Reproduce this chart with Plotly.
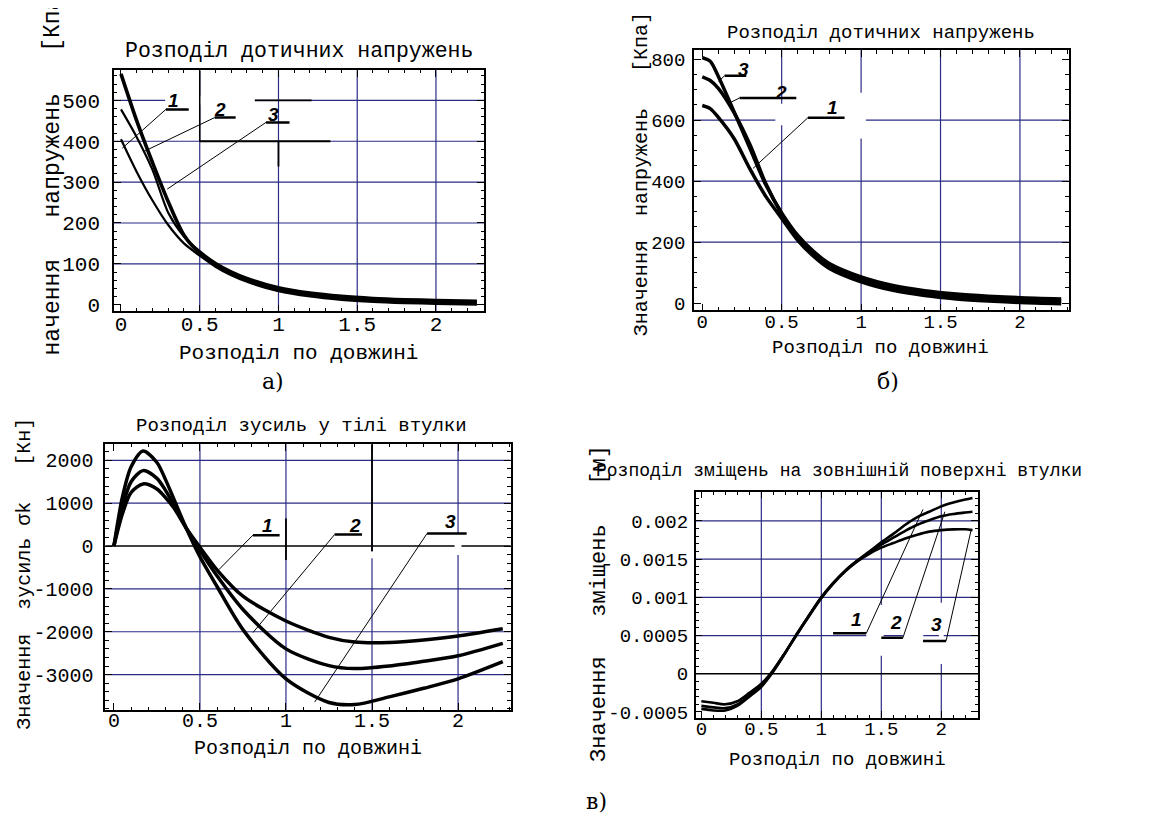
import plotly.graph_objects as go

W, H = 1176, 814

# ---------------- data ----------------
# а) tangential stresses, kPa
xa = [0.0, 0.1, 0.2, 0.3, 0.4, 0.5, 0.6, 0.7, 0.8, 1.0, 1.2, 1.4, 1.6, 1.8, 2.0, 2.26]
a1 = [405, 325, 255, 195, 150, 120, 93, 72, 56, 33, 20, 12, 7, 4, 2, 0]
a2 = [478, 410, 330, 225, 167, 131, 103, 82, 66, 43, 30, 22, 17, 14, 12, 10]
a3 = [565, 450, 348, 252, 170, 126, 98, 77, 61, 38, 25, 17, 12, 9, 7, 5]

# б) tangential stresses, kPa
xb = [0.0, 0.05, 0.1, 0.2, 0.3, 0.4, 0.5, 0.6, 0.7, 0.8, 1.0, 1.2, 1.4, 1.6, 1.8, 2.0, 2.26]
b1 = [648, 638, 610, 540, 440, 350, 278, 207, 154, 114, 70, 42, 25, 14, 7, 2, -2]
b2 = [742, 730, 705, 625, 520, 392, 292, 215, 162, 122, 78, 50, 33, 22, 15, 10, 6]
b3 = [805, 793, 745, 628, 508, 388, 296, 223, 170, 130, 86, 58, 41, 30, 23, 18, 14]

# в) forces in the sleeve body, kN
xc = [0.0, 0.05, 0.1, 0.17, 0.25, 0.3, 0.35, 0.42, 0.5, 0.6, 0.75, 1.0, 1.25, 1.4, 1.6, 1.8, 2.0, 2.26]
c1 = [0, 760, 1250, 1450, 1330, 1130, 880, 420, -30, -560, -1170, -1750, -2130, -2240, -2250, -2190, -2100, -1930]
c2 = [0, 920, 1500, 1760, 1580, 1300, 950, 420, -100, -700, -1480, -2400, -2790, -2860, -2800, -2690, -2560, -2270]
c3 = [0, 1150, 1850, 2220, 1950, 1550, 1080, 420, -250, -950, -1950, -3100, -3650, -3700, -3520, -3320, -3100, -2700]

# в) displacements of the outer sleeve surface, m
xd = [0.0, 0.1, 0.2, 0.3, 0.4, 0.5, 0.6, 0.7, 0.8, 0.9, 1.0, 1.1, 1.2, 1.3, 1.4, 1.5,
      1.6, 1.7, 1.8, 1.9, 2.0, 2.1, 2.2, 2.26]
d1 = [-0.00046, -0.00048, -0.00048, -0.00042, -0.00030, -0.00017, 0.00003, 0.00027, 0.00053,
      0.00077, 0.00100, 0.00119, 0.00135, 0.00148, 0.00160, 0.00172, 0.00183, 0.00195,
      0.00205, 0.00212, 0.00219, 0.00224, 0.00228, 0.00230]
d2 = [-0.00042, -0.00044, -0.00045, -0.00040, -0.00028, -0.00015, 0.00004, 0.00028, 0.00053,
      0.00077, 0.00100, 0.00119, 0.00135, 0.00148, 0.00159, 0.00169, 0.00178, 0.00187,
      0.00195, 0.00201, 0.00206, 0.00209, 0.00211, 0.00212]
d3 = [-0.00036, -0.00038, -0.00040, -0.00036, -0.00025, -0.00013, 0.00005, 0.00028, 0.00052,
      0.00076, 0.00099, 0.00118, 0.00134, 0.00147, 0.00157, 0.00165, 0.00171, 0.00177,
      0.00182, 0.00186, 0.00188, 0.00189, 0.00189, 0.00188]

x_ticks = [0, 0.5, 1, 1.5, 2]
x_tick_text = ["0", "0.5", "1", "1.5", "2"]
ya_ticks = [0, 100, 200, 300, 400, 500]
yb_ticks = [0, 200, 400, 600, 800]
yc_ticks = [-3000, -2000, -1000, 0, 1000, 2000]
yc_tick_text = ["-3000", "-2000", "-1000", "0", "1000", "2000"]
yd_ticks = [-0.0005, 0, 0.0005, 0.001, 0.0015, 0.002]
yd_tick_text = ["-0.0005", "0", "0.0005", "0.001", "0.0015", "0.002"]

x_grid = [0.5, 1, 1.5, 2]
ya_grid = [100, 200, 300, 400, 500]
yb_grid = [200, 400, 600]
yc_grid = [-3000, -2000, -1000, 1000, 2000]
yd_grid = [0.0005, 0.001, 0.0015, 0.002]

title_a = "Розподіл дотичних напружень"
title_b = "Розподіл дотичних напружень"
title_c = "Розподіл зусиль у тілі втулки"
title_d = "Розподіл зміщень на зовнішній поверхні втулки"
xtitle = "Розподіл по довжині"
ylab_a = "начення   напружень   [Кпа]"
ylab_b = "Значення  напружень   [Кпа]"
ylab_c = "Значення  зусиль σk   [Кн]"
ylab_d = "Значення   зміщень   [м]"

# ---------------- layout helpers ----------------
MONO = "Liberation Mono"
GRID = "#2b2b86"

def fx(p):
    return p / W

def fy(p):
    return 1 - p / H

panels = {
    # name: (left, right, top, bottom) px, xrange, yrange, minor dtick y
    "1": ((106, 476, 62.7, 306), [-0.0444, 2.305], [-16.3, 574], 20),
    "2": ((686, 1060.7, 42.7, 305), [-0.052, 2.307], [-23.7, 829], 50),
    "3": ((97.3, 502.7, 440, 708.3), [-0.05, 2.306], [-3831, 2376], 200),
    "4": ((687.7, 970, 487.7, 716), [-0.047, 2.306], [-0.000577, 0.002385], 0.0001),
}
ytick_info = {
    "1": (ya_ticks, [str(v) for v in ya_ticks]),
    "2": (yb_ticks, [str(v) for v in yb_ticks]),
    "3": (yc_ticks, yc_tick_text),
    "4": (yd_ticks, yd_tick_text),
}
tick_size = {"1": 21, "2": 19, "3": 20, "4": 19}
ystand = {"1": 8, "2": 3, "3": 6, "4": 2}
xstand = {"1": -7, "2": -7, "3": -9, "4": -7}

fig = go.Figure()
layout = dict(
    width=W, height=H, margin=dict(l=0, r=0, t=0, b=0),
    paper_bgcolor="white", plot_bgcolor="white", showlegend=False,
    font=dict(family=MONO, color="black"),
)
for k, ((l, r, t, b), xr, yr, ym) in panels.items():
    xs = "xaxis" if k == "1" else f"xaxis{k}"
    ys = "yaxis" if k == "1" else f"yaxis{k}"
    tv, tt = ytick_info[k]
    layout[xs] = dict(
        domain=[fx(l), fx(r)], anchor="y" if k == "1" else f"y{k}", range=xr,
        showgrid=False, zeroline=False, showline=True, linecolor="black", linewidth=1.5,
        mirror="ticks", ticks="inside", ticklen=7, tickwidth=1, tickcolor="black",
        tickvals=x_ticks, ticktext=x_tick_text, ticklabelstandoff=xstand[k],
        tickfont=dict(family=MONO, size=tick_size[k], color="black"),
        minor=dict(ticks="inside", ticklen=3.5, dtick=0.1, tick0=0, showgrid=False, tickcolor="black"),
    )
    layout[ys] = dict(
        domain=[fy(b), fy(t)], anchor="x" if k == "1" else f"x{k}", range=yr,
        showgrid=False, zeroline=False, showline=True, linecolor="black", linewidth=1.5,
        mirror="ticks", ticks="inside", ticklen=7, tickwidth=1, tickcolor="black",
        tickvals=tv, ticktext=tt, ticklabelstandoff=ystand[k],
        tickfont=dict(family=MONO, size=tick_size[k], color="black"),
        minor=dict(ticks="inside", ticklen=3.5, dtick=ym, tick0=0, showgrid=False, tickcolor="black"),
    )

# ---------------- curves ----------------
def add_curve(x, y, k, width):
    fig.add_trace(go.Scatter(
        x=x, y=y, mode="lines", xaxis="x" if k == "1" else f"x{k}",
        yaxis="y" if k == "1" else f"y{k}",
        line=dict(color="black", width=width, shape="spline", smoothing=0.8),
        hoverinfo="skip"))

add_curve(xa, a1, "1", 2.2)
add_curve(xa, a2, "1", 2.2)
add_curve(xa, a3, "1", 3.6)
for ser in (b1, b2, b3):
    add_curve(xb, ser, "2", 3.5)
for ser in (c1, c2, c3):
    add_curve(xc, ser, "3", 3.5)
for ser in (d1, d2, d3):
    add_curve(xd, ser, "4", 2.6)

# ---------------- grid + scan artefacts (shapes) ----------------
shapes = []

def ref(k):
    return ("x" if k == "1" else f"x{k}", "y" if k == "1" else f"y{k}")

def vgrid(k, vals, color=GRID, w=1.2):
    xr, yr = ref(k)
    for v in vals:
        shapes.append(dict(type="line", xref=xr, yref=yr + " domain", x0=v, x1=v, y0=0, y1=1,
                           line=dict(color=color, width=w), layer="below"))

def hgrid(k, vals, color=GRID, w=1.2):
    xr, yr = ref(k)
    for v in vals:
        shapes.append(dict(type="line", xref=xr + " domain", yref=yr, x0=0, x1=1, y0=v, y1=v,
                           line=dict(color=color, width=w), layer="below"))

def seg(k, x0, y0, x1, y1, color="black", w=1.0, layer="above"):
    xr, yr = ref(k)
    shapes.append(dict(type="line", xref=xr, yref=yr, x0=x0, y0=y0, x1=x1, y1=y1,
                       line=dict(color=color, width=w), layer=layer))

def blank(k, x0, y0, x1, y1):
    xr, yr = ref(k)
    shapes.append(dict(type="rect", xref=xr, yref=yr, x0=x0, y0=y0, x1=x1, y1=y1,
                       line=dict(width=0), fillcolor="white", layer="below"))

for k, yg in (("1", ya_grid), ("2", yb_grid), ("3", yc_grid), ("4", yd_grid)):
    vgrid(k, x_grid)
    hgrid(k, yg)
hgrid("3", [0], color="black", w=1.5)
hgrid("4", [0], color="black", w=1.5)

# artefacts, panel а
blank("1", 0.28, 490, 0.85, 510)
seg("1", 0.5, 400, 0.5, 574, w=1.5, layer="below")
seg("1", 0.5, 400, 1.33, 400, w=1.8, layer="below")
seg("1", 1.0, 338, 1.0, 400, w=1.8, layer="below")
seg("1", 0.85, 500, 1.21, 500, w=1.8, layer="below")
# artefacts, panel б
blank("2", 0.46, 590, 1.02, 610)
blank("2", 0.98, 540, 1.03, 690)
blank("2", 0.48, 583, 0.52, 654)
# artefacts, panel в (left)
seg("3", 1.0, -323, 1.0, 640, w=1.8, layer="below")
seg("3", 1.5, -130, 1.5, 2376, w=1.8, layer="below")
blank("3", 1.48, -285, 1.52, -130)
blank("3", 1.98, -208, 2.02, 294)
# artefacts, panel в (right)
blank("4", 1.48, 0.000236, 1.52, 0.0009)
blank("4", 1.98, 0.000127, 2.02, 0.00093)
blank("4", 1.375, 0.00047, 1.5, 0.00053)
blank("4", 1.68, 0.00047, 1.85, 0.00053)

# ---------------- curve labels: underline + leader ----------------
labels = [
    # panel, text, label x, label y, underline x0, x1, y, leader end x, y
    ("1", "1", 0.334, 500, 0.285, 0.43, 478, 0.008, 383),
    ("1", "2", 0.626, 478, 0.595, 0.728, 458, 0.14, 374),
    ("1", "3", 0.969, 466, 0.92, 1.07, 446, 0.294, 283),
    ("2", "3", 0.26, 767, 0.141, 0.277, 746, 0.103, 727),
    ("2", "2", 0.497, 691, 0.235, 0.592, 673, 0.162, 654),
    ("2", "1", 0.823, 643, 0.665, 0.896, 608, 0.32, 442),
    ("3", "1", 0.895, 486, 0.808, 0.963, 254, 0.609, -555),
    ("3", "2", 1.40, 486, 1.283, 1.442, 270, 0.808, -2020),
    ("3", "3", 1.957, 564, 1.82, 2.05, 294, 1.167, -3640),
    ("4", "1", 1.29, 0.00071, 1.098, 1.375, 0.00053, 1.847, 0.00215),
    ("4", "2", 1.625, 0.00067, 1.5, 1.68, 0.00047, 2.03, 0.00212),
    ("4", "3", 1.96, 0.00065, 1.848, 2.04, 0.00043, 2.25, 0.00189),
]
annotations = []
for k, txt, lx, ly, u0, u1, uy, ex, ey in labels:
    seg(k, u0, uy, u1, uy, w=2.5)
    sx = u1 if k == "4" else u0
    seg(k, sx, uy, ex, ey, w=1.0)
    xr, yr = ref(k)
    annotations.append(dict(x=lx, y=ly, xref=xr, yref=yr, text=f"<b><i>{txt}</i></b>",
                            showarrow=False, font=dict(family="Liberation Sans", size=19, color="black")))

# ---------------- titles / axis labels ----------------
def ann(text, px, py, size, angle=0, xa="center", ya="middle", family=MONO):
    annotations.append(dict(text=text, x=fx(px), y=fy(py), xref="paper", yref="paper",
                            showarrow=False, textangle=angle, xanchor=xa, yanchor=ya,
                            font=dict(family=family, size=size, color="black")))

ann(title_a, 291, 43, 21.5)
ann(title_b, 873, 25, 19)
ann(title_c, 293, 422, 19)
ann(title_d, 831, 467, 18)
ann(xtitle, 290, 349, 21)
ann(xtitle, 872, 343, 19)
ann(xtitle, 300, 747, 20)
ann(xtitle, 829, 759, 19)
ann(ylab_a, 45, 353, 23, angle=-90, ya="bottom")
ann(ylab_b, 633, 333, 20, angle=-90, ya="bottom")
ann(ylab_c, 17, 730, 20, angle=-90, ya="bottom")
ann(ylab_d, 592, 763, 22, angle=-90, ya="bottom")
ann("а)", 265, 377, 22, family="DejaVu Serif")
ann("б)", 880, 377, 22, family="DejaVu Serif")
ann("в)", 588, 800, 22, family="DejaVu Serif")

layout["shapes"] = shapes
layout["annotations"] = annotations
fig.update_layout(**layout)
fig.write_html("out.html")
